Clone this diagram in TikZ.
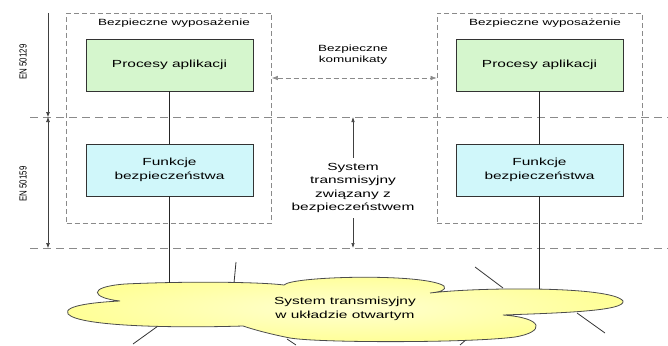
\documentclass[tikz,border=0pt]{standalone}
\usepackage{fontspec}
\setmainfont[FakeStretch=1.5]{Liberation Sans}
\newfontfamily\plainsans{Liberation Sans}
\usepackage{graphicx}
\definecolor{procgreen}{HTML}{D5F6CD}
\definecolor{funcblue}{HTML}{D0F7FA}
\definecolor{cloudyellow}{HTML}{FFFF96}
\definecolor{dashgray}{HTML}{8A8A8A}
\usetikzlibrary{arrows.meta,positioning,calc}

\begin{document}
\begin{tikzpicture}[x=1pt,y=-1pt,
  proc/.style={draw=black!80,fill=procgreen,line width=0.9pt,
               minimum width=167pt,minimum height=52pt,
               font=\fontsize{10.3}{13.8}\selectfont,align=center},
  func/.style={proc,fill=funcblue},
  eqbox/.style={draw=dashgray,dash pattern=on 5pt off 3pt,line width=0.7pt,
                minimum width=205pt,minimum height=210pt},
  small/.style={font=\fontsize{9}{11}\selectfont,align=center},
  big/.style={font=\fontsize{10.3}{13.6}\selectfont,align=center},
  level/.style={draw=dashgray,dash pattern=on 8pt off 5pt,line width=0.7pt},
  dim/.style={black!75,line width=0.6pt},
  tip/.style={{Latex[length=5pt,width=4pt]}},
  link/.style={black!85,line width=0.9pt},
  spoke/.style={black!80,line width=0.8pt}
]
\useasboundingbox (0,0) rectangle (668,345);

% Poziomy
\coordinate (dtop) at (48,13);
\coordinate (dmid) at (48,117);
\coordinate (dbot) at (48,248);
\coordinate (lvl1) at (30,117);
\coordinate (lvl2) at (30,248);
\coordinate (edge) at (668,0);
\coordinate (msgy) at (0,78);

\draw[level] (lvl1) -- (lvl1 -| edge);
\draw[level] (lvl2) -- (lvl2 -| edge);
\draw[dim,-{Latex[length=5pt,width=4pt]}] (dtop) -- (dmid);
\draw[dim,{Latex[length=5pt,width=4pt]}-{Latex[length=5pt,width=4pt]}] (dmid) -- (dbot);

\node[rotate=90] (en1) at (23,62)
  {\scalebox{1}[1.3]{\plainsans\fontsize{7.9}{9}\selectfont EN 50129}};
\node[rotate=90] (en2) at (23,184)
  {\scalebox{1}[1.3]{\plainsans\fontsize{7.9}{9}\selectfont EN 50159}};

% Bezpieczne wyposazenie
\node[eqbox] (lbox) at (169,118) {};
\node[eqbox] (rbox) at (539.5,118) {};
\node[small] (lbl1) at (174,23) {Bezpieczne wyposażenie};
\node[small] (lbl2) at (545,23) {Bezpieczne wyposażenie};

\node[proc] (pa1) at (169.5,65)  {Procesy aplikacji};
\node[func] (fb1) at (169.5,170) {Funkcje\\bezpieczeństwa};
\node[proc] (pa2) at (539.5,65)  {Procesy aplikacji};
\node[func] (fb2) at (539.5,170) {Funkcje\\bezpieczeństwa};

% Komunikaty
\node[small] (msg) at (353,55) {Bezpieczne\\komunikaty};
\draw[dim,draw=dashgray,dash pattern=on 5pt off 3pt,
      {Latex[length=6pt,width=4.5pt]}-{Latex[length=6pt,width=4.5pt]}]
  (lbox.east |- msgy) -- (rbox.west |- msgy);

\node[big,inner sep=5pt] (sysbz) at (353,188)
  {System\\transmisyjny\\związany z\\bezpieczeństwem};
\draw[dim,-{Latex[length=5pt,width=3.5pt]}] (sysbz.north) -- (sysbz.north |- dmid);
\draw[dim,-{Latex[length=5pt,width=3.5pt]}] (sysbz.south) -- (sysbz.south |- dbot);

% Chmura
\coordinate (cl1) at (169.5,283);
\coordinate (cl2) at (539.5,289);
\draw[spoke] (234,283) -- (236,262);
\draw[spoke] (503,288) -- (475,267);
\draw[spoke] (577,313) -- (605,333);
\draw[spoke] (158,326) -- (133,344);
\draw[spoke] (287,339) -- (296,345);
\draw[spoke] (468,338) -- (460,345);
\shade[draw=black!70,line width=0.8pt,inner color=yellow!18,outer color=cloudyellow]
  (120,301) .. controls (92,298) and (86,287) .. (125,284)
  .. controls (190,281) and (260,282) .. (284,285)
  .. controls (292,276) and (425,273) .. (444,286)
  .. controls (447,290) and (440,292) .. (430,293)
  .. controls (480,287) and (612,286) .. (623,301)
  .. controls (626,311) and (560,313) .. (503,315)
  .. controls (545,318) and (545,332) .. (515,337)
  .. controls (470,343) and (320,343) .. (290,338)
  .. controls (270,334) and (255,330) .. (243,326)
  .. controls (180,328) and (80,327) .. (68,314)
  .. controls (62,305) and (100,302) .. (120,301) -- cycle;
\node[big] (open) at (345,309) {System transmisyjny\\w układzie otwartym};

% Polaczenia
\draw[link] (pa1) -- (fb1);
\draw[link] (pa2) -- (fb2);
\draw[link] (fb1.south) -- (cl1);
\draw[link] (fb2.south) -- (cl2);
\end{tikzpicture}
\end{document}
